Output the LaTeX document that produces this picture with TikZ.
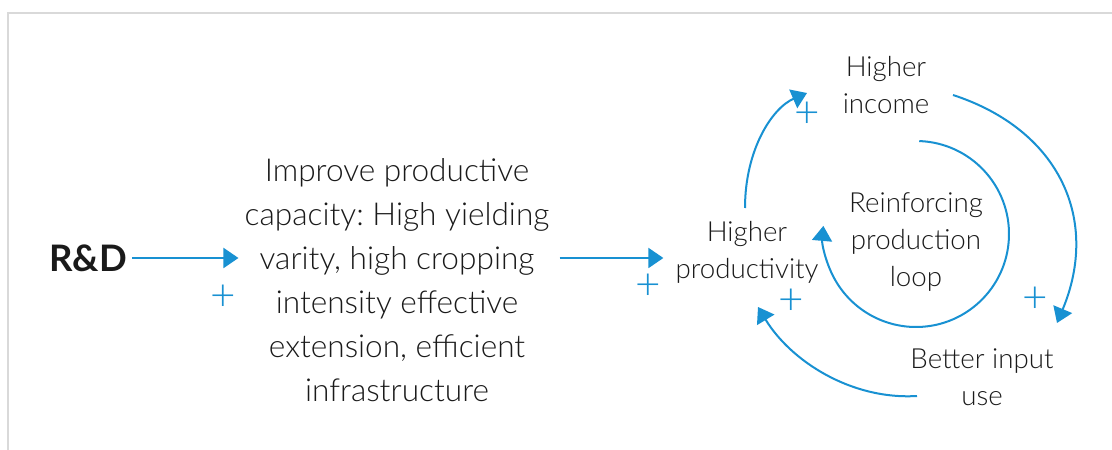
\documentclass[tikz,border=0pt]{standalone}
\usepackage{fontspec}
\IfFontExistsTF{Lato Light}{\setmainfont{Lato Light}[BoldFont=Lato Bold]}{\setmainfont{Carlito}}
\usetikzlibrary{arrows.meta}
\definecolor{loopblue}{RGB}{24,145,210}
\definecolor{framegray}{RGB}{217,217,217}
\definecolor{txt}{RGB}{26,26,26}
\frenchspacing
\begin{document}
\begin{tikzpicture}[x=1pt,y=1pt,
  conn/.style={draw=loopblue, line width=2pt, -{Triangle[length=15pt,width=20pt]}},
  lab/.style={text=txt, align=center, inner sep=0pt},
  big/.style={lab, font=\fontsize{31.6}{44}\selectfont},
  small/.style={lab, font=\fontsize{27.7}{37}\selectfont},
  plus/.style={text=loopblue, inner sep=0pt, font=\fontsize{44}{44}\selectfont}]
\useasboundingbox (0,0) rectangle (1112,450);
\fill[white] (0,0) rectangle (1112,450);
\draw[framegray, line width=1.5pt] (8,0) -- (8,437) -- (1112,437);

\node[lab, font=\fontsize{36.5}{36.5}\selectfont\bfseries] (rd) at (88,192) {R\&D};
\node[big] (main) at (397,170) {Improve productive\\capacity: High yielding\\varity, high cropping\\intensity effective\\extension, efficient\\infrastructure};
\node[small] (prod) at (747,198) {Higher\\productivity};
\node[small] (inc) at (886,365) {Higher\\income};
\node[small] (loop) at (916,208) {Reinforcing\\production\\loop};
\node[small] (inp) at (982,73) {Better input\\use};

\node[plus] (p1) at (223,152) {+};
\node[plus] (p2) at (648,163) {+};
\node[plus] (p3) at (807,335) {+};
\node[plus] (p4) at (791,148) {+};
\node[plus] (p5) at (1035,150) {+};

\draw[conn, shorten <=5pt, shorten >=6pt] (rd.east) -- (rd.east -| main.west);
\draw[conn, shorten <=10pt, shorten >=12pt] (rd.east -| main.east) -- (rd.east -| prod.west);

\coordinate (a1s) at (745,242);
\coordinate (a1e) at (807,357);
\draw[conn] (a1s) .. controls (745,300) and (772,342) .. (a1e);

\coordinate (a2s) at (953,355);
\coordinate (a2e) at (1057,127);
\draw[conn] (a2s) .. controls (1060,320) and (1100,230) .. (a2e);

\coordinate (a3s) at (917,54);
\coordinate (a3e) at (758,143);
\draw[conn] (a3s) .. controls (850,50) and (790,90) .. (a3e);

\coordinate (lc) at (916,216);
\draw[conn] ([shift={(88:93)}]lc) arc[start angle=88, end angle=-185, radius=93];
\end{tikzpicture}
\end{document}
